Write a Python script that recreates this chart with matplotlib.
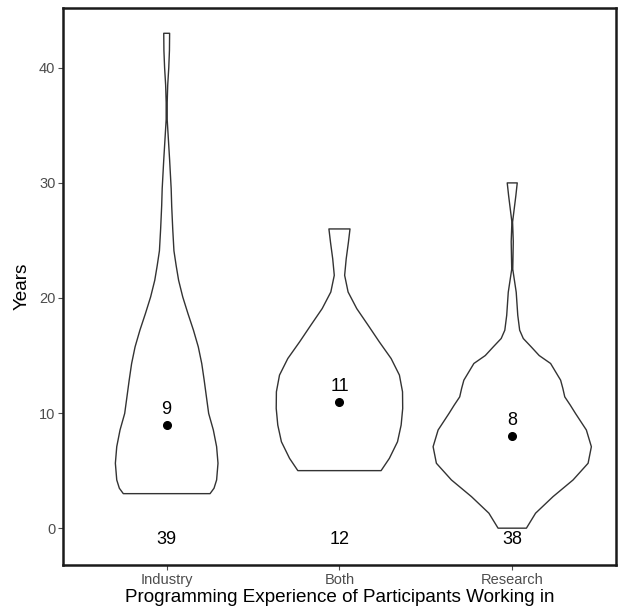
import numpy as np
import matplotlib
matplotlib.use("Agg")
import matplotlib.pyplot as plt

plt.rcParams['font.family'] = ['Liberation Sans', 'DejaVu Sans']

# Categorías y resumen de cada grupo
categorias = ['Industry', 'Both', 'Research']
medianas = [9, 11, 8]
conteos = [39, 12, 38]

# Perfil de cada violín: años (y) y medio ancho (en unidades del eje x)
industry_y = [3.0, 3.47, 4.19, 5.64, 7.08, 8.53, 9.97, 11.41, 12.86, 14.3, 15.75,
              17.2, 18.65, 20.09, 21.54, 22.8, 24.1, 26.0, 28.0, 29.5, 32.0, 34.0,
              35.5, 37.0, 38.5, 40.0, 41.5, 43.0]
industry_w = [0.251, 0.274, 0.289, 0.297, 0.289, 0.270, 0.243, 0.230, 0.217, 0.203,
              0.183, 0.155, 0.123, 0.093, 0.069, 0.055, 0.042, 0.035, 0.029, 0.026,
              0.017, 0.009, 0.003, 0.003, 0.006, 0.012, 0.016, 0.017]

both_y = [5.0, 6.07, 7.51, 8.96, 10.4, 11.85, 13.3, 14.74, 16.18, 17.63, 19.08,
          20.52, 21.97, 23.4, 24.86, 26.0]
both_w = [0.241, 0.289, 0.336, 0.357, 0.366, 0.365, 0.347, 0.299, 0.231, 0.166,
          0.100, 0.050, 0.030, 0.039, 0.052, 0.061]

research_y = [0.0, 1.3, 2.74, 4.19, 5.64, 7.08, 8.53, 9.97, 10.69, 11.41, 12.14,
              12.86, 14.31, 15.0, 15.75, 16.48, 17.2, 18.5, 20.5, 22.5, 24.9, 26.6,
              28.9, 30.0]
research_w = [0.082, 0.135, 0.236, 0.352, 0.439, 0.458, 0.429, 0.366, 0.336, 0.304,
              0.293, 0.280, 0.222, 0.156, 0.110, 0.064, 0.043, 0.032, 0.023, 0.003,
              0.006, 0.002, 0.021, 0.029]

perfiles = [(industry_y, industry_w), (both_y, both_w), (research_y, research_w)]

fig = plt.figure(figsize=(6.19, 6.13), dpi=100)
ax = fig.add_axes([0.1018, 0.0783, 0.8932, 0.9087])

for i, (ys, ws) in enumerate(perfiles):
    xc = i + 1
    ys = np.array(ys)
    ws = np.array(ws)
    xs = np.concatenate([xc - ws, (xc + ws)[::-1]])
    yy = np.concatenate([ys, ys[::-1]])
    ax.fill(xs, yy, facecolor='white', edgecolor='#333333', linewidth=1.0,
            joinstyle='round', zorder=2)
    ax.plot(xc, medianas[i], 'o', color='black', markersize=5.5, zorder=3)
    ax.text(xc, medianas[i] + 0.6, str(medianas[i]), ha='center', va='bottom',
            fontsize=13, color='black', zorder=4)
    ax.text(xc, -1, str(conteos[i]), ha='center', va='center',
            fontsize=13, color='black', zorder=4)

ax.set_xlim(0.4, 3.6)
ax.set_ylim(-3.2, 45.2)
ax.set_xticks([1, 2, 3])
ax.set_xticklabels(categorias)
ax.set_yticks([0, 10, 20, 30, 40])

ax.tick_params(axis='both', colors='#4D4D4D', labelcolor='#4D4D4D', labelsize=10.5,
               length=3.5, width=0.8, pad=2)

for s in ax.spines.values():
    s.set_linewidth(1.8)
    s.set_color('#1a1a1a')

ax.set_xlabel('Programming Experience of Participants Working in', fontsize=13.6,
              color='black', labelpad=2)
ax.set_ylabel('Years', fontsize=13.6, color='black', labelpad=6)

plt.savefig('out.png', dpi=100)
